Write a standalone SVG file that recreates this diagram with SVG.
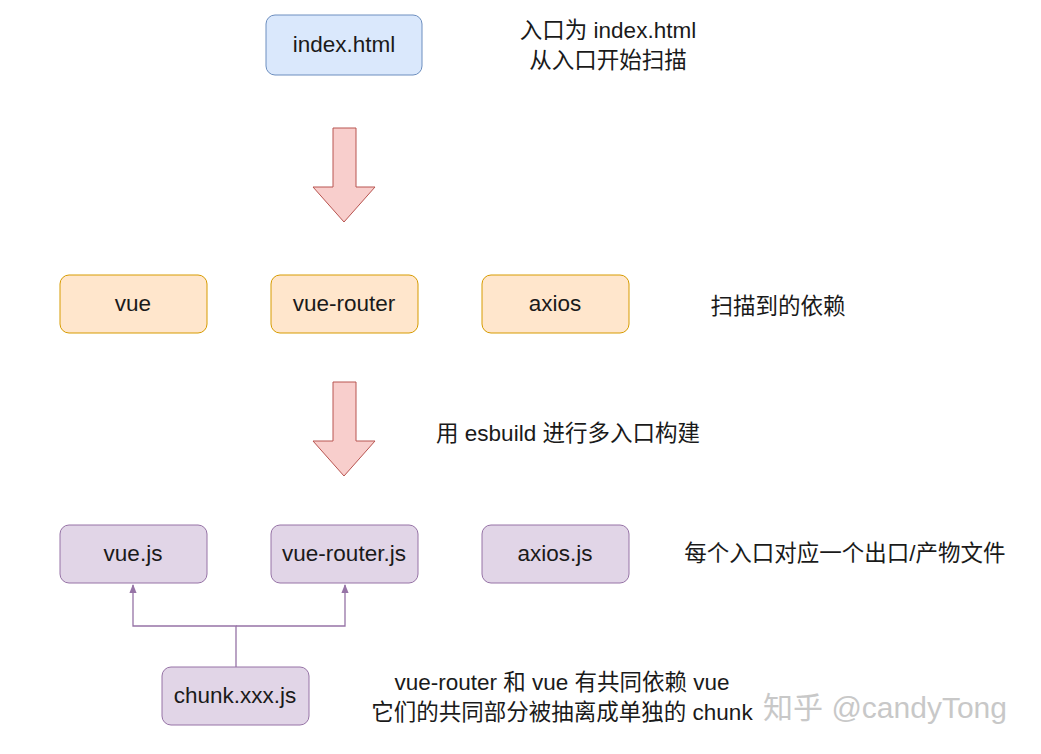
<svg xmlns="http://www.w3.org/2000/svg" width="1041" height="754" viewBox="0 0 1041 754">
<style>
text{font-family:"Liberation Sans","Noto Sans CJK SC",sans-serif;font-size:22.5px;fill:#1a1a1a;text-anchor:middle}
.b{fill:#dae8fc;stroke:#6c8ebf}
.o{fill:#ffe6cc;stroke:#d79b00}
.p{fill:#e1d5e7;stroke:#9673a6}
.a{fill:#f8cecc;stroke:#b85450}
</style>
<defs><marker id="m" viewBox="0 0 10 10" refX="9" refY="5" markerWidth="7" markerHeight="7" orient="auto"><path d="M0,1 L10,5 L0,9 Z" fill="#9673a6"/></marker></defs>
<rect width="1041" height="754" fill="#fff"/>
<g id="index"><rect class="b" x="266" y="15" width="156" height="60" rx="9"/><text x="344" y="52">index.html</text></g>
<g id="arrow1"><path class="a" d="M333,128 H356 V187 H375 L344,222 L313,187 H333 Z"/></g>
<g id="vue"><rect class="o" x="60" y="275" width="147" height="58" rx="9"/><text x="133" y="311">vue</text></g>
<g id="vuerouter"><rect class="o" x="271" y="275" width="147" height="58" rx="9"/><text x="344" y="311">vue-router</text></g>
<g id="axios"><rect class="o" x="482" y="275" width="147" height="58" rx="9"/><text x="555" y="311">axios</text></g>
<g id="arrow2"><path class="a" d="M333,382 H356 V441 H375 L344,476 L313,441 H333 Z"/></g>
<g id="vuejs"><rect class="p" x="60" y="525" width="147" height="58" rx="9"/><text x="133" y="561">vue.js</text></g>
<g id="vuerouterjs"><rect class="p" x="271" y="525" width="147" height="58" rx="9"/><text x="344" y="561">vue-router.js</text></g>
<g id="axiosjs"><rect class="p" x="482" y="525" width="147" height="58" rx="9"/><text x="555" y="561">axios.js</text></g>
<g id="chunk"><rect class="p" x="162" y="667" width="147" height="58" rx="9"/><text x="235" y="703">chunk.xxx.js</text></g>
<g id="connectors" fill="none" stroke="#9673a6" stroke-width="1.3">
<path d="M236,667 V626 H133 V585" marker-end="url(#m)"/>
<path d="M236,626 H345 V585" marker-end="url(#m)"/>
</g>
<g id="labels">
<text x="608" y="38">入口为 index.html</text>
<text x="608" y="68">从入口开始扫描</text>
<text x="778" y="314">扫描到的依赖</text>
<text x="568" y="441">用 esbuild 进行多入口构建</text>
<text x="845" y="561">每个入口对应一个出口/产物文件</text>
<text x="562" y="690">vue-router 和 vue 有共同依赖 vue</text>
<text x="562" y="720">它们的共同部分被抽离成单独的 chunk</text>
<text x="885" y="718" style="font-size:30px;fill:#bbb;opacity:0.8">知乎 @candyTong</text>
</g>
</svg>
